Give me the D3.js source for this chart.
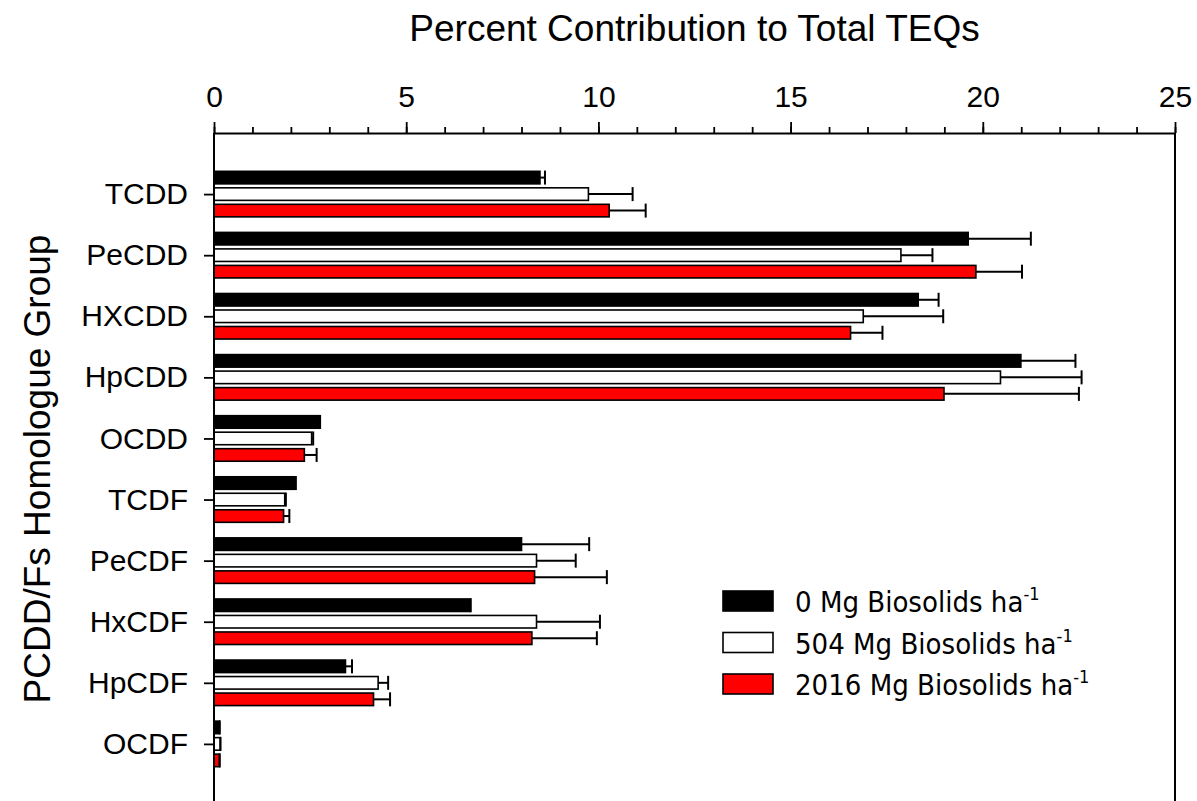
<!DOCTYPE html>
<html>
<head>
<meta charset="utf-8">
<script src="https://cdn.jsdelivr.net/npm/d3@7"></script>
<style>
  body { margin: 0; background: #fff; }
  svg { display: block; }
</style>
</head>
<body>
<svg class="chart" width="1197" height="801"></svg>
<script>
// homologue groups, top to bottom
const categories = ["TCDD", "PeCDD", "HXCDD", "HpCDD", "OCDD", "TCDF", "PeCDF", "HxCDF", "HpCDF", "OCDF"];

// percent contribution (mean) and + error, per biosolids rate
const mg0      = [8.48, 19.62, 18.32, 20.99, 2.74, 2.09, 8.00, 6.66, 3.42, 0.14];
const mg0Err   = [0.13, 1.63, 0.53, 1.42, 0.02, 0.04, 1.76, 0.02, 0.17, 0.01];
const mg504    = [9.74, 17.87, 16.89, 20.46, 2.54, 1.84, 8.39, 8.39, 4.27, 0.16];
const mg504Err = [1.15, 0.82, 2.08, 2.11, 0.04, 0.03, 1.02, 1.65, 0.26, 0.01];
const mg2016    = [10.28, 19.82, 16.56, 18.99, 2.35, 1.81, 8.34, 8.27, 4.15, 0.14];
const mg2016Err = [0.95, 1.20, 0.83, 3.51, 0.32, 0.15, 1.88, 1.69, 0.43, 0.01];

const seriesNames = ["0", "504", "2016"];
const seriesColors = ["#000000", "#ffffff", "#ff0000"];
const xTicks = [0, 5, 10, 15, 20, 25];

const series = [
  { name: seriesNames[0], values: mg0, errs: mg0Err, color: seriesColors[0] },
  { name: seriesNames[1], values: mg504, errs: mg504Err, color: seriesColors[1] },
  { name: seriesNames[2], values: mg2016, errs: mg2016Err, color: seriesColors[2] }
];

const svg = d3.select(".chart");
const arial = "'Liberation Sans', Arial, sans-serif";

const plotLeft = 214, plotRight = 1175, plotTop = 133, plotBottom = 805;

const x = d3.scaleLinear().domain([0, 25]).range([plotLeft, plotRight]);
const y = d3.scalePoint().domain(categories).range([plotTop, plotBottom]).padding(1);
const sub = d3.scaleBand().domain(d3.range(series.length)).range([-24.75, 24.75]).paddingInner(0.24).paddingOuter(0.12);

// bars
const groups = svg.selectAll("g.series")
  .data(series)
  .enter()
  .append("g")
  .attr("class", "series");

groups.selectAll("rect")
  .data((s, i) => s.values.map((v, j) => ({ v: v, e: s.errs[j], cat: categories[j], si: i, color: s.color })))
  .enter()
  .append("rect")
  .attr("x", x(0))
  .attr("y", d => y(d.cat) + sub(d.si))
  .attr("width", d => x(d.v) - x(0))
  .attr("height", sub.bandwidth())
  .attr("fill", d => d.color)
  .attr("stroke", "#000")
  .attr("stroke-width", 1.6);

// error bars (plus side only)
const errs = svg.append("g").attr("class", "errors").attr("stroke", "#000").attr("stroke-width", 2);
series.forEach((s, i) => {
  s.values.forEach((v, j) => {
    const cy = y(categories[j]) + sub(i) + sub.bandwidth() / 2;
    errs.append("line")
      .attr("x1", x(v)).attr("x2", x(v + s.errs[j]))
      .attr("y1", cy).attr("y2", cy);
    errs.append("line")
      .attr("x1", x(v + s.errs[j])).attr("x2", x(v + s.errs[j]))
      .attr("y1", cy - 7).attr("y2", cy + 7);
  });
});

// top axis, minor ticks first
svg.append("g")
  .attr("transform", `translate(0,${plotTop})`)
  .call(d3.axisTop(x).tickValues(d3.range(0, 26)).tickSize(6).tickFormat(""))
  .call(g => g.select(".domain").remove())
  .selectAll("line").attr("stroke-width", 1.8);

const xAxis = svg.append("g")
  .attr("transform", `translate(0,${plotTop})`)
  .call(d3.axisTop(x).tickValues(xTicks).tickSize(11).tickSizeOuter(0).tickPadding(15));
xAxis.select(".domain").attr("stroke-width", 2);
xAxis.selectAll("line").attr("stroke-width", 1.8);
xAxis.selectAll("text").attr("font-family", arial).attr("font-size", 30).attr("fill", "#000");

const yAxis = svg.append("g")
  .attr("transform", `translate(${plotLeft},0)`)
  .call(d3.axisLeft(y).tickSize(10).tickSizeOuter(0).tickPadding(16));
yAxis.select(".domain").attr("d", `M0,${plotTop}V${plotBottom}`).attr("stroke-width", 2);
yAxis.selectAll("line").attr("stroke-width", 1.8);
yAxis.selectAll("text").attr("font-family", arial).attr("font-size", 30).attr("fill", "#000");

// right and bottom frame
svg.append("path")
  .attr("d", `M${plotRight},${plotTop}V${plotBottom}H${plotLeft}`)
  .attr("fill", "none")
  .attr("stroke", "#000")
  .attr("stroke-width", 2);

// titles
svg.append("text")
  .attr("x", (plotLeft + plotRight) / 2)
  .attr("y", 41)
  .attr("text-anchor", "middle")
  .attr("font-family", arial)
  .attr("font-size", 37)
  .text("Percent Contribution to Total TEQs");

svg.append("text")
  .attr("transform", `translate(50,${(plotTop + plotBottom) / 2}) rotate(-90)`)
  .attr("text-anchor", "middle")
  .attr("font-family", arial)
  .attr("font-size", 37)
  .text("PCDD/Fs Homologue Group");

// legend
const legend = svg.append("g").attr("transform", "translate(723,591)");
const rows = legend.selectAll("g")
  .data(series)
  .enter()
  .append("g")
  .attr("transform", (d, i) => `translate(0,${i * 41.5})`);

rows.append("rect")
  .attr("width", 50)
  .attr("height", 20)
  .attr("fill", d => d.color)
  .attr("stroke", "#000")
  .attr("stroke-width", 1.6);

const labels = rows.append("text")
  .attr("x", 72)
  .attr("y", 21)
  .attr("font-family", "'DejaVu Sans Condensed', 'DejaVu Sans', sans-serif")
  .style("font-stretch", "condensed")
  .attr("font-size", 29);
labels.append("tspan").text(d => d.name + " Mg Biosolids ha");
labels.append("tspan").attr("font-size", 18).attr("dy", -12).text("-1");
</script>
</body>
</html>
